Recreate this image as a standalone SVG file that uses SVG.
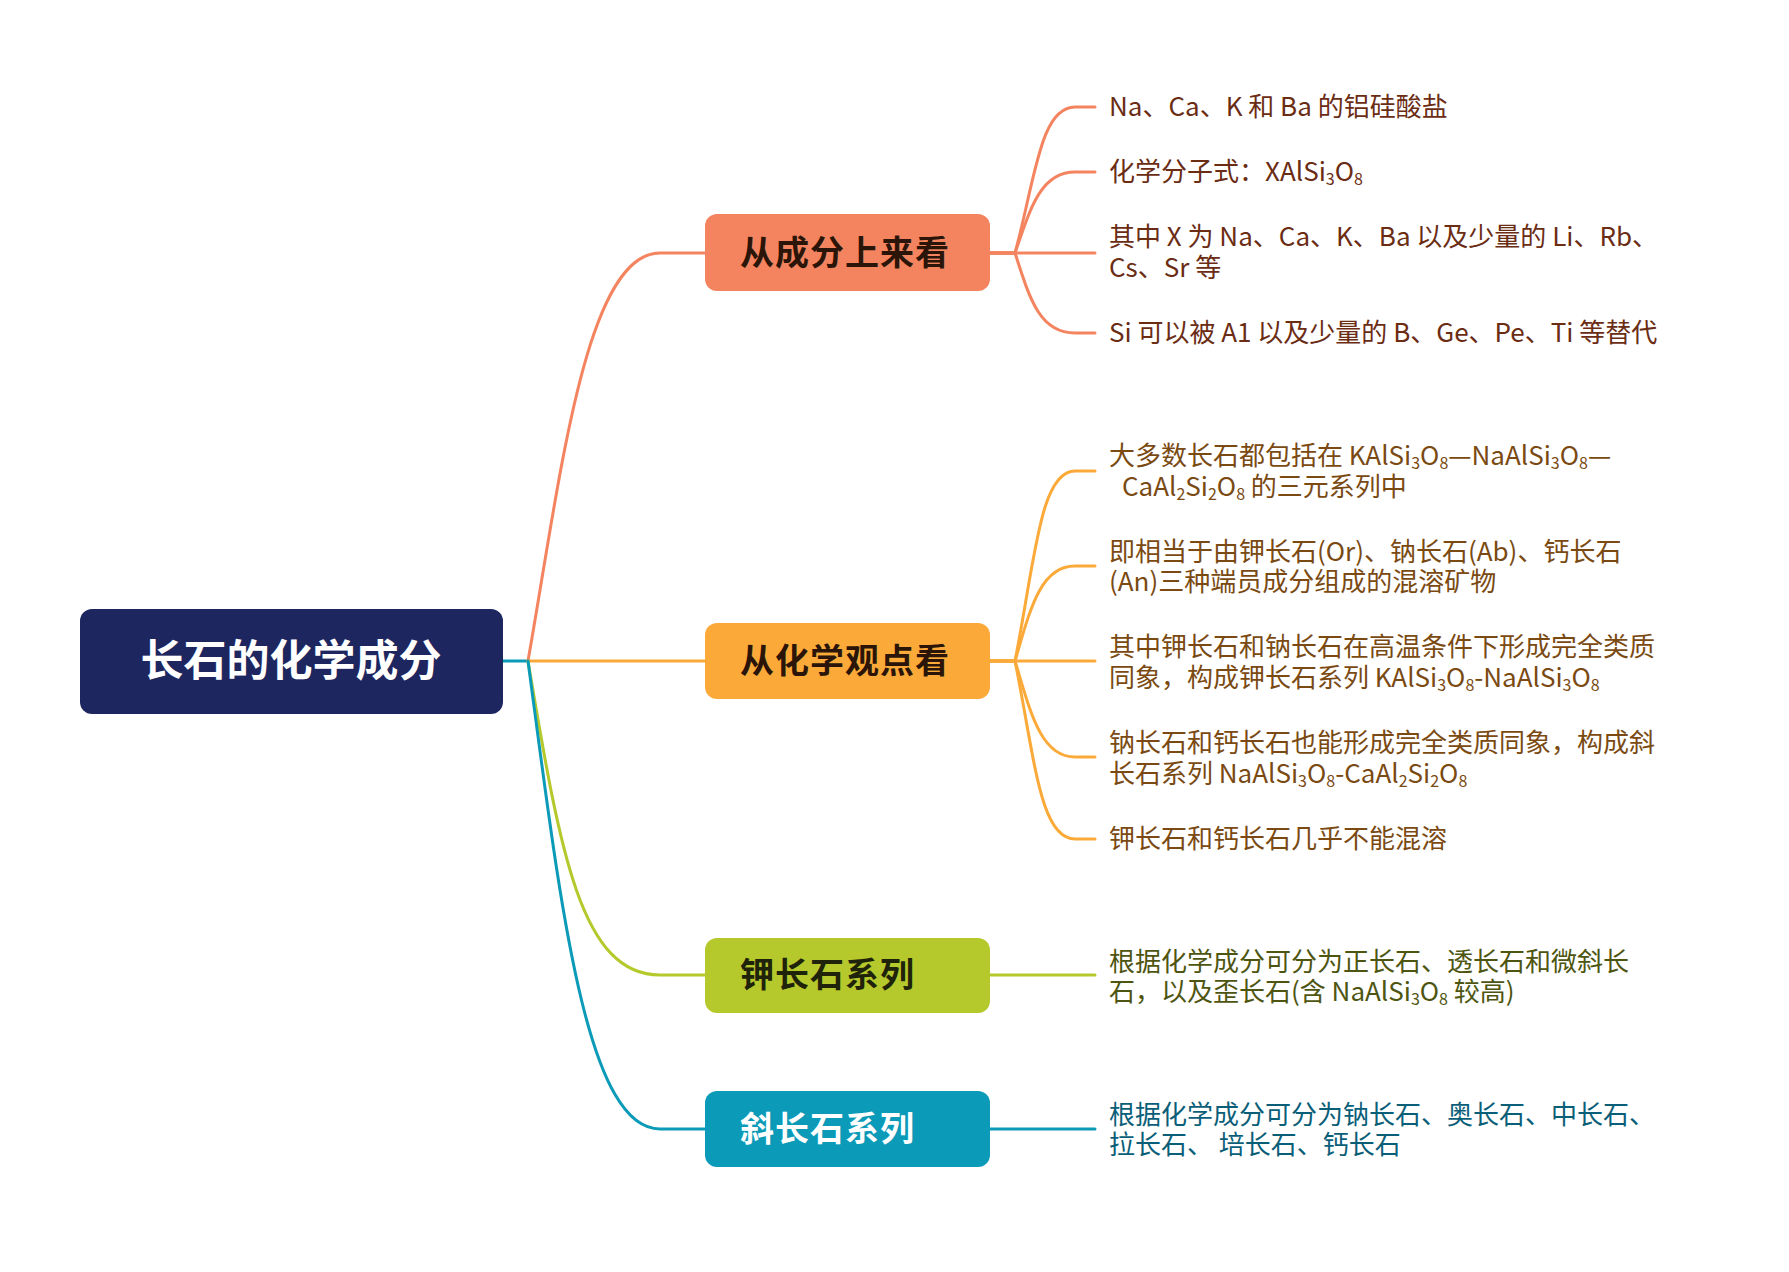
<svg xmlns="http://www.w3.org/2000/svg" width="1789" height="1272" viewBox="0 0 1789 1272">
<style>
.c{fill:none;stroke-width:3;stroke-linecap:round}
.leaf{font-family:"Noto Sans CJK SC","Liberation Sans",sans-serif;font-size:26px}
.br{font-family:"Noto Sans CJK SC",sans-serif;font-size:34px;font-weight:bold;letter-spacing:1px}
.s{font-size:16px;baseline-shift:-4px}
</style>
<rect width="1789" height="1272" fill="#fff"/>
<g id="connectors">
<path class="c" stroke="#0B9AB8" d="M503 661 H528"/>
<path class="c" stroke="#F4845F" d="M528 661 C560 480 585 253 660 253 H705"/>
<path class="c" stroke="#FBAA3A" d="M528 661 H705"/>
<path class="c" stroke="#B5C92C" d="M528 661 C560 850 580 975 660 975 H705"/>
<path class="c" stroke="#0B9AB8" d="M528 661 C560 900 585 1129 660 1129 H705"/>
<g stroke="#F4845F">
<path class="c" d="M990 253 H1015 C1035 180 1040 107 1075 107 H1095"/>
<path class="c" d="M990 253 H1015 C1030 210 1040 172 1075 172 H1095"/>
<path class="c" d="M990 253 H1095"/>
<path class="c" d="M990 253 H1015 C1030 300 1040 333 1075 333 H1095"/>
</g>
<g stroke="#FBAA3A">
<path class="c" d="M990 661 H1015 C1035 560 1040 471 1075 471 H1095"/>
<path class="c" d="M990 661 H1015 C1030 610 1040 566 1075 566 H1095"/>
<path class="c" d="M990 661 H1095"/>
<path class="c" d="M990 661 H1015 C1030 710 1040 757 1075 757 H1095"/>
<path class="c" d="M990 661 H1015 C1035 760 1040 839 1075 839 H1095"/>
</g>
<path class="c" stroke="#B5C92C" d="M990 975 H1095"/>
<path class="c" stroke="#0B9AB8" d="M990 1129 H1095"/>
</g>
<g id="root"><rect x="80" y="609" width="423" height="105" rx="12" fill="#1E2660"/>
<text x="291" y="676" text-anchor="middle" font-family="Noto Sans CJK SC,sans-serif" font-size="43" font-weight="bold" fill="#fff">长石的化学成分</text></g>
<g id="b1"><rect x="705" y="214" width="285" height="77" rx="12" fill="#F4845F"/><text class="br" x="740" y="265" fill="#2A1508">从成分上来看</text></g>
<g id="b2"><rect x="705" y="623" width="285" height="76" rx="12" fill="#FBAA3A"/><text class="br" x="740" y="673" fill="#2A1508">从化学观点看</text></g>
<g id="b3"><rect x="705" y="938" width="285" height="75" rx="12" fill="#B5C92C"/><text class="br" x="740" y="987" fill="#1F230A">钾长石系列</text></g>
<g id="b4"><rect x="705" y="1091" width="285" height="76" rx="12" fill="#0B9AB8"/><text class="br" x="740" y="1141" fill="#fff">斜长石系列</text></g>
<g class="leaf" fill="#6B2C14">
<text x="1109" y="116">Na、Ca、K 和 Ba 的铝硅酸盐</text>
<text x="1109" y="181">化学分子式：XAlSi<tspan class="s">3</tspan>O<tspan class="s">8</tspan></text>
<text x="1109" y="246">其中 X 为 Na、Ca、K、Ba 以及少量的 Li、Rb、</text>
<text x="1109" y="277">Cs、Sr 等</text>
<text x="1109" y="342">Si 可以被 A1 以及少量的 B、Ge、Pe、Ti 等替代</text>
</g>
<g class="leaf" fill="#7A4A12">
<text x="1109" y="465">大多数长石都包括在 KAlSi<tspan class="s">3</tspan>O<tspan class="s">8</tspan>—NaAlSi<tspan class="s">3</tspan>O<tspan class="s">8</tspan>—</text>
<text x="1122" y="496">CaAl<tspan class="s">2</tspan>Si<tspan class="s">2</tspan>O<tspan class="s">8</tspan> 的三元系列中</text>
<text x="1109" y="561">即相当于由钾长石(Or)、钠长石(Ab)、钙长石</text>
<text x="1109" y="591">(An)三种端员成分组成的混溶矿物</text>
<text x="1109" y="656">其中钾长石和钠长石在高温条件下形成完全类质</text>
<text x="1109" y="687">同象，构成钾长石系列 KAlSi<tspan class="s">3</tspan>O<tspan class="s">8</tspan>-NaAlSi<tspan class="s">3</tspan>O<tspan class="s">8</tspan></text>
<text x="1109" y="752">钠长石和钙长石也能形成完全类质同象，构成斜</text>
<text x="1109" y="783">长石系列 NaAlSi<tspan class="s">3</tspan>O<tspan class="s">8</tspan>-CaAl<tspan class="s">2</tspan>Si<tspan class="s">2</tspan>O<tspan class="s">8</tspan></text>
<text x="1109" y="848">钾长石和钙长石几乎不能混溶</text>
</g>
<g class="leaf" fill="#4E5510">
<text x="1109" y="971">根据化学成分可分为正长石、透长石和微斜长</text>
<text x="1109" y="1001">石，以及歪长石(含  NaAlSi<tspan class="s">3</tspan>O<tspan class="s">8</tspan> 较高)</text>
</g>
<g class="leaf" fill="#0A5E78">
<text x="1109" y="1124">根据化学成分可分为钠长石、奥长石、中长石、</text>
<text x="1109" y="1154">拉长石、 培长石、钙长石</text>
</g>
</svg>
